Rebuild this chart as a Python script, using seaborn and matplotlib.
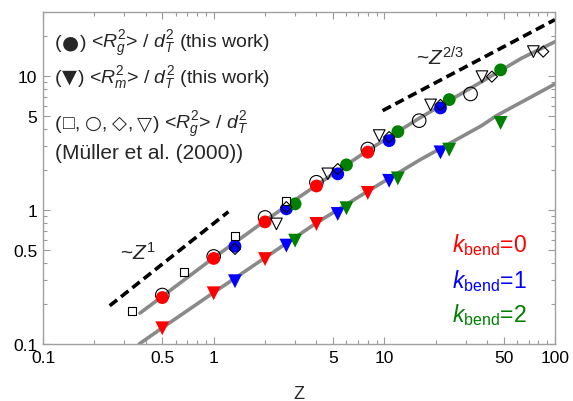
import numpy as np
import pandas as pd
import seaborn as sns
import matplotlib
matplotlib.use("Agg")
import matplotlib.pyplot as plt
from matplotlib.ticker import FixedLocator, FuncFormatter, LogLocator, NullFormatter

# ---------------- data ----------------
z_k0 = [0.5, 1, 2, 4, 8]
z_k1 = [1.333, 2.667, 5.333, 10.67, 21.33]
z_k2 = [3, 6, 12, 24, 48]

rg_k0 = [0.222, 0.435, 0.815, 1.51, 2.70]
rg_k1 = [0.536, 1.02, 1.86, 3.29, 5.77]
rg_k2 = [1.11, 2.17, 3.84, 6.66, 11.1]

rm_k0 = [0.131, 0.239, 0.430, 0.787, 1.34]
rm_k1 = [0.294, 0.542, 0.933, 1.65, 2.69]
rm_k2 = [0.590, 1.03, 1.72, 2.82, 4.46]

# Mueller et al. (2000)
mu_sq_z = [0.333, 0.667, 1.333, 2.667]
mu_sq = [0.175, 0.343, 0.636, 1.17]
mu_ci_z = [0.5, 1, 2, 4, 8, 16, 32]
mu_ci = [0.232, 0.45, 0.88, 1.61, 2.85, 4.64, 7.34]
mu_di_z = [1.333, 2.667, 5.333, 10.67, 21.33, 42.67, 85.33]
mu_di = [0.512, 1.05, 2.02, 3.5, 6.08, 9.88, 15.2]
mu_tr_z = [2.333, 4.667, 9.333, 18.67, 37.33, 74.67]
mu_tr = [0.787, 1.86, 3.59, 6.08, 9.88, 15.2]

# gray fit curves
fit_rg_z = [0.37, 1, 2, 4, 8, 16, 32, 64, 100]
fit_rg = [0.170, 0.44, 0.83, 1.53, 2.78, 4.83, 8.1, 13.6, 18.0]
fit_rm_z = [0.366, 0.5, 1, 2, 4, 8, 16.2, 37.2, 45.5, 100]
fit_rm = [0.1, 0.132, 0.242, 0.44, 0.80, 1.38, 2.37, 4.26, 5.06, 8.71]

# guide lines
guide1_z = [0.246, 1.22]
guide1 = [0.193, 0.970]
guide2_z = [9.77, 100]
guide2 = [5.51, 26.3]

x_ticks = [0.1, 0.5, 1, 5, 10, 50, 100]
y_ticks = [0.1, 0.5, 1, 5, 10]

colors = {"0": "#ff0000", "1": "#0000ff", "2": "#008000"}

# ---------------- style ----------------
sns.set_style("ticks")
plt.rcParams["font.family"] = ["Liberation Sans", "DejaVu Sans"]
plt.rcParams["mathtext.fontset"] = "custom"
plt.rcParams["mathtext.rm"] = "Liberation Sans"
plt.rcParams["mathtext.it"] = "Liberation Sans:italic"
plt.rcParams["mathtext.bf"] = "Liberation Sans:bold"

fig = plt.figure(figsize=(5.73, 4.02), dpi=100)
ax = fig.add_axes([43 / 573, 57 / 402, 512 / 573, 332 / 402])
ax.set_xscale("log")
ax.set_yscale("log")

# gray fits
fits = pd.DataFrame({
    "z": fit_rg_z + fit_rm_z,
    "v": fit_rg + fit_rm,
    "curve": ["rg"] * len(fit_rg_z) + ["rm"] * len(fit_rm_z),
})
sns.lineplot(data=fits, x="z", y="v", units="curve", estimator=None, sort=False,
             color="#8a8a8a", lw=2.6, ax=ax, zorder=1)

# guide dashed lines
guides = pd.DataFrame({
    "z": guide1_z + guide2_z,
    "v": guide1 + guide2,
    "g": ["a"] * 2 + ["b"] * 2,
})
for g, d in guides.groupby("g"):
    ax.plot(d["z"], d["v"], color="black", lw=2.6, dashes=(2.6, 1.4), zorder=1,
            solid_capstyle="butt", dash_capstyle="butt")

# Mueller open circles (behind)
sns.scatterplot(x=mu_ci_z, y=mu_ci, marker="o", s=95, facecolor="none",
                edgecolor="black", linewidth=0.8, ax=ax, zorder=2)

# this work: Rg circles, Rm triangles
rg_df = pd.DataFrame({
    "z": z_k0 + z_k1 + z_k2,
    "v": rg_k0 + rg_k1 + rg_k2,
    "k": ["0"] * 5 + ["1"] * 5 + ["2"] * 5,
})
rm_df = pd.DataFrame({
    "z": z_k0 + z_k1 + z_k2,
    "v": rm_k0 + rm_k1 + rm_k2,
    "k": ["0"] * 5 + ["1"] * 5 + ["2"] * 5,
})
sns.scatterplot(data=rg_df, x="z", y="v", hue="k", palette=colors, marker="o",
                s=85, linewidth=0, ax=ax, legend=False, zorder=3)
sns.scatterplot(data=rm_df, x="z", y="v", hue="k", palette=colors, marker="v",
                s=100, linewidth=0, ax=ax, legend=False, zorder=3)

# Mueller open squares, diamonds, triangles
sns.scatterplot(x=mu_sq_z, y=mu_sq, marker="s", s=40, facecolor="white",
                edgecolor="black", linewidth=0.8, ax=ax, zorder=4)
sns.scatterplot(x=mu_di_z, y=mu_di, marker="D", s=32, facecolor="none",
                edgecolor="black", linewidth=0.8, ax=ax, zorder=4)
sns.scatterplot(x=mu_tr_z, y=mu_tr, marker="v", s=70, facecolor="none",
                edgecolor="black", linewidth=0.8, ax=ax, zorder=4)

# axes
ax.set_xlim(0.1, 100)
ax.set_ylim(0.1, 30)
ax.xaxis.set_major_locator(FixedLocator(x_ticks))
ax.yaxis.set_major_locator(FixedLocator(y_ticks))
fmt = FuncFormatter(lambda v, p: "%g" % v)
ax.xaxis.set_major_formatter(fmt)
ax.yaxis.set_major_formatter(fmt)
ax.xaxis.set_minor_locator(LogLocator(base=10, subs=np.arange(2, 10), numticks=20))
ax.yaxis.set_minor_locator(LogLocator(base=10, subs=np.arange(2, 10), numticks=20))
ax.xaxis.set_minor_formatter(NullFormatter())
ax.yaxis.set_minor_formatter(NullFormatter())
ax.tick_params(which="both", direction="in", top=True, right=True, color="#9a9a9a",
               labelcolor="black", labelsize=12.5, width=0.8)
ax.tick_params(which="major", length=5, pad=4)
ax.tick_params(which="minor", length=3)
for s in ax.spines.values():
    s.set_color("#a0a0a0")
    s.set_linewidth(1.0)
ax.set_xlabel("Z", fontsize=13, labelpad=15)
ax.set_ylabel("")


def px(x, y):
    return ((x - 43) / 512, (345 - y) / 332)


renderer = fig.canvas.get_renderer()
LEG = 14
LIB = "Liberation Sans"
DJV = "DejaVu Sans"


def chain(xp, yp, segs, size=LEG):
    x = xp
    for txt, fam, gap in segs:
        t = ax.text(*px(x, yp), txt, transform=ax.transAxes, fontsize=size,
                    va="baseline", ha="left", family=fam)
        bb = t.get_window_extent(renderer)
        x = bb.x1 + gap


chain(55, 48, [("(", LIB, 0.5), ("\u25CF", DJV, 0.5), (")", LIB, 5),
               ("<$R_g^2$> / $d_T^2$ (this work)", LIB, 0)])
chain(55, 83, [("(", LIB, 0.5), ("\u25BC", DJV, 0.5), (")", LIB, 5),
               ("<$R_m^2$> / $d_T^2$ (this work)", LIB, 0)])
chain(55, 129, [("(", LIB, 1), ("\u25A1", LIB, 0), (",", LIB, 5),
                ("\u25CB", DJV, 0), (",", LIB, 5),
                ("\u25C7", DJV, 0), (",", LIB, 5),
                ("\u25BD", DJV, 0.5), (")", LIB, 5),
                ("<$R_g^2$> / $d_T^2$", LIB, 0)])
ax.text(*px(55, 159), "(Müller et al. (2000))", transform=ax.transAxes,
        fontsize=15, va="baseline", ha="left", family=LIB)

ax.text(*px(120, 260), "~$Z^1$", transform=ax.transAxes, fontsize=15,
        va="baseline", ha="left")
ax.text(*px(416, 65), "~$Z^{2/3}$", transform=ax.transAxes, fontsize=15,
        va="baseline", ha="left")

for k, yb in zip(["0", "1", "2"], [252, 288, 322]):
    ax.text(*px(452, yb), "$k_{\\mathrm{bend}}$=" + k, transform=ax.transAxes,
            fontsize=16.5, va="baseline", ha="left", color=colors[k])

fig.savefig("out.png", dpi=100)
